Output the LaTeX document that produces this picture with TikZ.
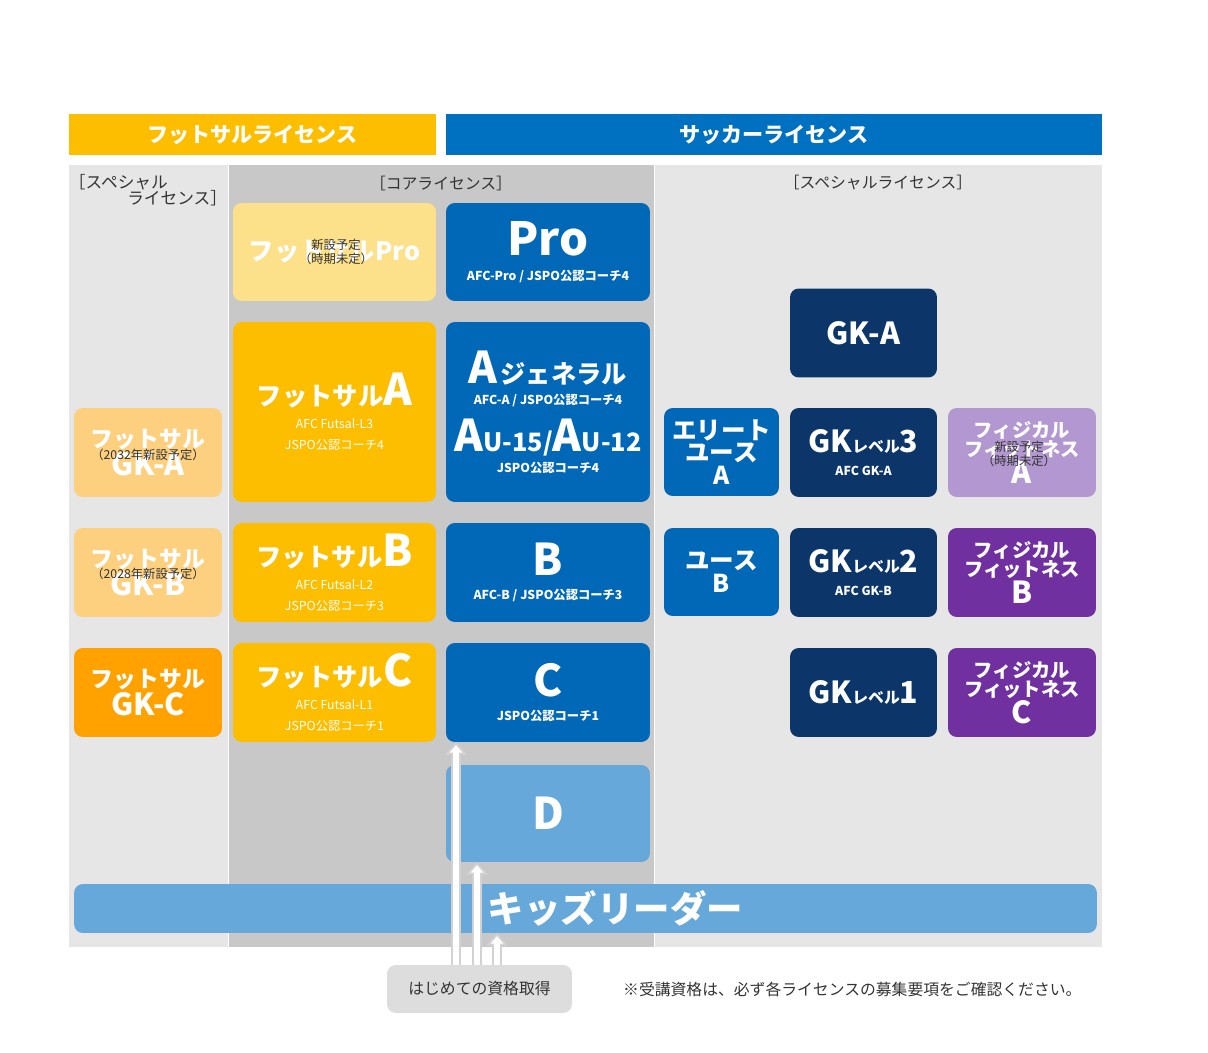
\documentclass[tikz,border=0pt]{standalone}
\usepackage{fontspec}
\setmainfont{Noto Sans CJK JP}
\usepackage{tikz}
\usetikzlibrary{arrows.meta,calc}

\definecolor{futsal}{HTML}{FDBE00}
\definecolor{futsallight}{HTML}{FDE08A}
\definecolor{futsalgk}{HTML}{FDD07F}
\definecolor{futsalgkc}{HTML}{FFA200}
\definecolor{soccer}{HTML}{0068B7}
\definecolor{soccerhead}{HTML}{0070C0}
\definecolor{soccerlight}{HTML}{66A8D9}
\definecolor{navy}{HTML}{0C3569}
\definecolor{phys}{HTML}{7030A0}
\definecolor{physlight}{HTML}{B397D0}
\definecolor{panel}{HTML}{E6E6E6}
\definecolor{corepanel}{HTML}{C8C8C8}
\definecolor{ink}{HTML}{333333}

\begin{document}
\begin{tikzpicture}[
    x=0.02cm, y=-0.02cm,
    lic/.style={rectangle, rounded corners=5pt, inner sep=1pt, align=center, text=white, font=\bfseries},
    wide/.style={lic, minimum width=4.06cm},
    side/.style={lic, minimum width=2.96cm, minimum height=1.78cm, font=\bfseries\fontsize{13}{14}\selectfont},
    right/.style={lic, minimum width=2.94cm, minimum height=1.78cm},
    youth/.style={lic, minimum width=2.3cm, minimum height=1.76cm, font=\bfseries\fontsize{14}{13}\selectfont},
    fit/.style={lic, minimum width=2.96cm, minimum height=1.78cm, font=\bfseries\fontsize{11}{11}\selectfont},
    header/.style={rectangle, minimum height=0.82cm, text=white, font=\bfseries\large},
    label/.style={text=ink, font=\small, align=center},
    note/.style={text=ink, font=\scriptsize, align=center, inner sep=0pt},
    uparrow/.style={draw=gray!35, line width=5.5pt, -{Triangle[width=12pt,length=7pt]}},
    upinner/.style={draw=white, line width=3pt, shorten >=1.6pt, -{Triangle[width=7pt,length=4.2pt]}}
]
\useasboundingbox (0,0) rectangle (1208,1053);

% panels
\fill[panel] (69,165) rectangle (228,947);
\fill[corepanel] (229,165) rectangle (654,947);
\fill[panel] (655,165) rectangle (1102,947);

% headers
\node[header, fill=futsal, minimum width=7.34cm] (futsalhead) at (252.5,134.5) {フットサルライセンス};
\node[header, fill=soccerhead, minimum width=13.12cm] (soccerhead) at (774,134.5) {サッカーライセンス};

\node[label, align=left, font=\fontsize{9.5}{9}\selectfont] (speciall) at (148,190) {［スペシャル\\\hspace*{3.5em}ライセンス］};
\node[label] (core) at (441,183) {［コアライセンス］};
\node[label] (specialr) at (878,183) {［スペシャルライセンス］};

% futsal core
\node[wide, fill=futsallight, minimum height=1.96cm] (fpro) at (334.5,252) {\Large フットサルPro};
\node[note] (fpronote) at (336,252) {新設予定\\（時期未定）};
\node[wide, fill=futsal, minimum height=3.6cm] (fa) at (334.5,412)
  {{\Large フットサル}{\Huge A}\\[1pt]\scriptsize\mdseries AFC Futsal-L3\\\scriptsize\mdseries JSPO公認コーチ4};
\node[wide, fill=futsal, minimum height=1.98cm] (fb) at (334.5,572.5)
  {{\Large フットサル}{\Huge B}\\[1pt]\scriptsize\mdseries AFC Futsal-L2\\\scriptsize\mdseries JSPO公認コーチ3};
\node[wide, fill=futsal, minimum height=1.98cm] (fc) at (334.5,692.5)
  {{\Large フットサル}{\Huge C}\\[1pt]\scriptsize\mdseries AFC Futsal-L1\\\scriptsize\mdseries JSPO公認コーチ1};

% soccer core
\node[wide, fill=soccer, minimum width=4.08cm, minimum height=1.96cm] (pro) at (548,252)
  {{\fontsize{26}{28}\selectfont Pro}\\[2pt]\scriptsize AFC-Pro / JSPO公認コーチ4};
\node[wide, fill=soccer, minimum width=4.08cm, minimum height=3.6cm] (a) at (548,412)
  {{\Huge A}\,{\Large ジェネラル}\\\scriptsize AFC-A / JSPO公認コーチ4\\[6pt]
   {\Huge A}{\Large U-15/}{\Huge A}{\Large U-12}\\\scriptsize JSPO公認コーチ4};
\node[wide, fill=soccer, minimum width=4.08cm, minimum height=1.98cm] (b) at (548,572.5)
  {{\Huge B}\\[2pt]\scriptsize AFC-B / JSPO公認コーチ3};
\node[wide, fill=soccer, minimum width=4.08cm, minimum height=1.98cm] (c) at (548,692.5)
  {{\Huge C}\\[2pt]\scriptsize JSPO公認コーチ1};
\node[wide, fill=soccerlight, minimum width=4.08cm, minimum height=1.94cm] (d) at (548,813.5) {\Huge D};

% futsal special
\node[side, fill=futsalgk] (fgka) at (148,452.5) {フットサル\\\LARGE GK-A};
\node[note] (fgkanote) at (148,455) {（2032年新設予定）};
\node[side, fill=futsalgk] (fgkb) at (148,572.5) {フットサル\\\LARGE GK-B};
\node[note] (fgkbnote) at (148,574) {（2028年新設予定）};
\node[side, fill=futsalgkc] (fgkc) at (148,692.5) {フットサル\\\LARGE GK-C};

% soccer special
\node[right, fill=navy] (gka) at (863.5,333) {\LARGE GK-A};
\node[youth, fill=soccer] (elite) at (721.5,452) {エリート\\ユース\\A};
\node[youth, fill=soccer] (youthb) at (721.5,572) {ユース\\B};
\node[right, fill=navy] (gk3) at (863.5,452.5) {{\LARGE GK}{\small レベル}{\LARGE 3}\\[1pt]\scriptsize AFC GK-A};
\node[right, fill=navy] (gk2) at (863.5,572.5) {{\LARGE GK}{\small レベル}{\LARGE 2}\\[1pt]\scriptsize AFC GK-B};
\node[right, fill=navy] (gk1) at (863.5,692.5) {{\LARGE GK}{\small レベル}{\LARGE 1}};
\node[fit, fill=physlight] (physa) at (1022,452.5) {フィジカル\\フィットネス\\\LARGE A};
\node[note] (physanote) at (1019,454) {新設予定\\（時期未定）};
\node[fit, fill=phys] (physb) at (1022,572.5) {フィジカル\\フィットネス\\\LARGE B};
\node[fit, fill=phys] (physc) at (1022,692.5) {フィジカル\\フィットネス\\\LARGE C};

% kids
\node[lic, fill=soccerlight, minimum width=20.46cm, minimum height=0.98cm] (kids) at (585.5,908.5) {\hspace*{1.2cm}\huge キッズリーダー};

% entry
\node[lic, fill=gray!27, text=ink, font=\small, minimum width=3.7cm, minimum height=0.96cm] (start) at (479.5,989) {はじめての資格取得};
\node[text=ink, font=\small, anchor=west] (remark) at (617,989) {※受講資格は、必ず各ライセンスの募集要項をご確認ください。};

% entry paths
\foreach \dx/\goal in {-23.5/c, -2.5/d, 17.5/kids}{
  \coordinate (foot) at ($(start.north)+(\dx,0)$);
  \draw[uparrow] (foot) -- (foot |- \goal.south);
  \draw[upinner] (foot) -- (foot |- \goal.south);
}

\end{tikzpicture}
\end{document}
